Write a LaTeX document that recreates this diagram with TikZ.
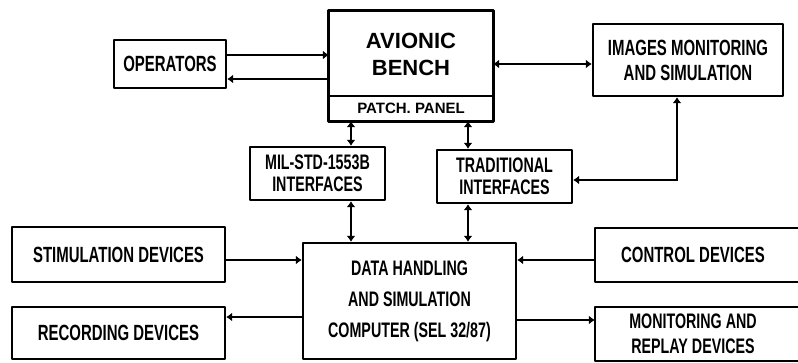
\documentclass[tikz,border=0pt]{standalone}
\usepackage{fontspec}
\setmainfont{Liberation Sans}
\newfontfamily\condfont[FakeStretch=0.68]{Liberation Sans}
\usetikzlibrary{arrows.meta}
\begin{document}
\begin{tikzpicture}[x=1pt,y=-1pt,
  >={Latex[length=6pt,width=9pt]},
  boxline/.style={line width=2.4pt, line join=round},
  box/.style={draw, boxline, rectangle, inner sep=0pt, align=center,
    font=\condfont\bfseries\fontsize{22}{25}\selectfont},
  openbox/.style={box, draw=none},
  conn/.style={line width=1.9pt}]
\useasboundingbox (0,0) rectangle (798,362);
\clip (0,0) rectangle (798,362);
\fill[white] (0,0) rectangle (798,362);

% Avionic bench and patch panel
\node[box, draw=none, minimum width=162pt, minimum height=85pt,
  font=\bfseries\fontsize{22}{27}\selectfont] (bench) at (411,54.5) {AVIONIC\\BENCH};
\node[box, draw=none, minimum width=162pt, minimum height=23pt,
  font=\bfseries\fontsize{15}{18}\selectfont] (patch) at (411,108.5) {PATCH. PANEL};
\draw[boxline, line width=3.2pt] (bench.north west) rectangle (patch.south east);
\draw[boxline] (patch.north west) -- (patch.north east);

\node[box, minimum width=112pt, minimum height=48pt] (ops) at (170,64) {OPERATORS};
\node[box, minimum width=190pt, minimum height=72pt] (img) at (688,60) {IMAGES MONITORING\\AND SIMULATION};
\node[box, minimum width=135pt, minimum height=53pt, font=\condfont\bfseries\fontsize{21}{22}\selectfont] (mil) at (317.5,173.5) {MIL-STD-1553B\\INTERFACES};
\node[box, minimum width=135pt, minimum height=53pt, font=\condfont\bfseries\fontsize{21}{22}\selectfont] (trad) at (504.5,176.5) {TRADITIONAL\\INTERFACES};
\node[box, minimum width=213pt, minimum height=116pt, font=\condfont\bfseries\fontsize{21}{31}\selectfont] (comp) at (409.5,301) {DATA HANDLING\\AND SIMULATION\\COMPUTER (SEL 32/87)};
\node[box, minimum width=213pt, minimum height=55pt] (stim) at (118.5,254.5) {STIMULATION DEVICES};
\node[box, minimum width=213pt, minimum height=52pt] (rec) at (118.5,333) {RECORDING DEVICES};

% right-hand boxes, cut off by the picture edge
\node[openbox, minimum width=194pt, minimum height=52pt] (ctl) at (693,255) {CONTROL DEVICES};
\draw[boxline] ([xshift=30pt]ctl.north east) -- (ctl.north west) -- (ctl.south west) -- ([xshift=30pt]ctl.south east);
\node[openbox, minimum width=194pt, minimum height=52pt, font=\condfont\bfseries\fontsize{21}{25}\selectfont] (mon) at (693,334) {MONITORING AND\\REPLAY DEVICES};
\draw[boxline] ([xshift=30pt]mon.north east) -- (mon.north west) -- (mon.south west) -- ([xshift=30pt]mon.south east);

% connectors
\coordinate (o1) at ([yshift=9pt]ops.east);
\coordinate (o2) at ([yshift=-15pt]ops.east);
\draw[conn,->] (o1) -- (o1 -| bench.west);
\draw[conn,->] (o2 -| bench.west) -- (o2);
\coordinate (b1) at ([yshift=-9.5pt]bench.east);
\draw[conn,<->] (b1) -- (b1 -| img.west);

\coordinate (p1) at ([xshift=-60pt]patch.south);
\coordinate (p2) at ([xshift=57pt]patch.south);
\draw[conn,<->] (p1) -- (p1 |- mil.north);
\draw[conn,<->] (p2) -- (p2 |- trad.north);
\draw[conn,<->] (p1 |- mil.south) -- (p1 |- comp.north);
\draw[conn,<->] (p2 |- trad.south) -- (p2 |- comp.north);

\coordinate (i1) at ([xshift=-11pt]img.south);
\coordinate (t1) at ([yshift=-3.5pt]trad.east);
\draw[conn,<->] (i1) |- (t1);

\coordinate (s1) at ([yshift=-5.5pt]stim.east);
\draw[conn,->] (s1) -- (s1 -| comp.west);
\coordinate (r1) at ([yshift=16pt]rec.east);
\draw[conn,->] (r1 -| comp.west) -- (r1);
\coordinate (c1) at ([yshift=-5pt]ctl.west);
\draw[conn,->] (c1) -- (c1 -| comp.east);
\coordinate (m1) at ([yshift=14pt]mon.west);
\draw[conn,->] (m1 -| comp.east) -- (m1);
\end{tikzpicture}
\end{document}
